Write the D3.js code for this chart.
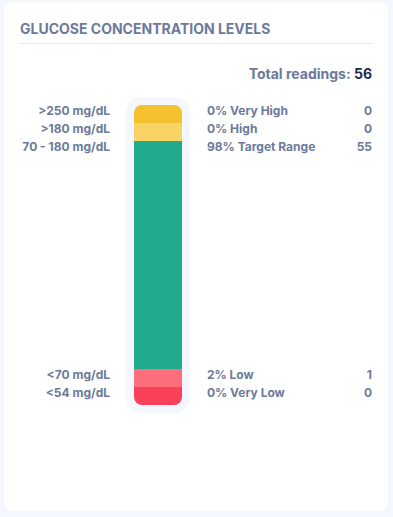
<!DOCTYPE html>
<html>
<head>
<meta charset="utf-8">
<script src="https://cdn.jsdelivr.net/npm/d3@7"></script>
<style>
  html, body { margin: 0; padding: 0; background: #f4f7fe; }
  svg { display: block; font-family: Inter, "Noto Sans", sans-serif; }
</style>
</head>
<body>
<div id="app"></div>
<script>
// glucose ranges, top to bottom
const ranges = [">250 mg/dL", ">180 mg/dL", "70 - 180 mg/dL", "<70 mg/dL", "<54 mg/dL"]
const names = ["Very High", "High", "Target Range", "Low", "Very Low"]
const percents = [0, 0, 98, 2, 0]
const counts = [0, 0, 55, 1, 0]
const colors = ["#f5c12e", "#f8d365", "#21aa8c", "#fe6e7c", "#fb4159"]
const totalReadings = 56

const width = 393
const height = 517

const svg = d3.select("#app").append("svg")
  .attr("width", width)
  .attr("height", height)

// card
svg.append("rect")
  .attr("x", 4).attr("y", 2)
  .attr("width", 384).attr("height", 509)
  .attr("rx", 9)
  .attr("fill", "#ffffff")

svg.append("text")
  .attr("x", 20).attr("y", 34)
  .attr("fill", "#6b7a9b")
  .attr("font-size", 14)
  .attr("font-weight", 700)
  .text("GLUCOSE CONCENTRATION LEVELS")

svg.append("line")
  .attr("x1", 20).attr("x2", 372)
  .attr("y1", 43.5).attr("y2", 43.5)
  .attr("stroke", "#e3e8ef")

const total = svg.append("text")
  .attr("x", 372).attr("y", 79)
  .attr("text-anchor", "end")
  .attr("font-size", 14)
  .attr("font-weight", 700)
total.append("tspan").attr("fill", "#6b7a9b").text("Total readings: ")
total.append("tspan").attr("fill", "#1d2b4f").text(totalReadings)

// bar geometry
const barTop = 105
const barBottom = 405
const barLeft = 134
const barRight = 182
const minSeg = 18

// small segments get a minimum height, the rest is shared by value
const small = percents.map(p => p < 10)
const freeSpace = (barBottom - barTop) - minSeg * small.filter(d => d).length
const bigTotal = d3.sum(percents.filter((p, i) => !small[i]))
const h = d3.scaleLinear().domain([0, bigTotal]).range([0, freeSpace])

let acc = barTop
const segs = percents.map((p, i) => {
  const hh = small[i] ? minSeg : h(p)
  const s = { i, y0: acc, y1: acc + hh }
  acc += hh
  return s
})

// rail behind the bar
svg.append("rect")
  .attr("x", barLeft - 8).attr("y", barTop - 8)
  .attr("width", barRight - barLeft + 16)
  .attr("height", barBottom - barTop + 16)
  .attr("rx", 16)
  .attr("fill", "#f4f7fe")

svg.append("clipPath").attr("id", "barClip")
  .append("rect")
  .attr("x", barLeft).attr("y", barTop)
  .attr("width", barRight - barLeft)
  .attr("height", barBottom - barTop)
  .attr("rx", 8)

svg.append("g")
  .attr("clip-path", "url(#barClip)")
  .selectAll("rect")
  .data(segs)
  .join("rect")
  .attr("x", barLeft)
  .attr("y", d => d.y0)
  .attr("width", barRight - barLeft)
  .attr("height", d => d.y1 - d.y0)
  .attr("fill", d => colors[d.i])

const labels = svg.append("g")
  .attr("font-size", 12)
  .attr("font-weight", 700)
  .attr("fill", "#6b7a9b")

labels.selectAll(".range")
  .data(segs)
  .join("text")
  .attr("x", 110)
  .attr("y", d => d.y0 + 10)
  .attr("text-anchor", "end")
  .text(d => ranges[d.i])

labels.selectAll(".name")
  .data(segs)
  .join("text")
  .attr("x", 207)
  .attr("y", d => d.y0 + 10)
  .text(d => percents[d.i] + "% " + names[d.i])

labels.selectAll(".count")
  .data(segs)
  .join("text")
  .attr("x", 372)
  .attr("y", d => d.y0 + 10)
  .attr("text-anchor", "end")
  .text(d => counts[d.i])
</script>
</body>
</html>
